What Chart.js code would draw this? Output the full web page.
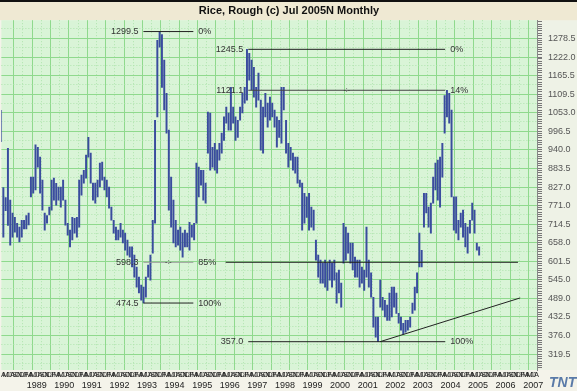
<!DOCTYPE html>
<html>
<head>
<meta charset="utf-8">
<script src="https://cdn.jsdelivr.net/npm/chart.js@4"></script>
<style>
  html, body { margin: 0; padding: 0; background: #f4f2e6; }
  #c { display: block; }
</style>
</head>
<body>
<canvas id="c" width="577" height="391"></canvas>
<script>
// Rice, Rough monthly high/low bars, Mar 1988 .. Jul 2005
const startYear = 1988, startMonth = 2;

const highs = [
  1060, 825, 795, 945, 787, 748, 735, 717, 705, 726,
  726, 740, 748, 857, 857, 955, 948, 918, 848, 748,
  740, 766, 848, 854, 838, 827, 827, 848, 787, 717,
  696, 735, 732, 735, 848, 863, 878, 924, 978, 930,
  839, 839, 848, 900, 903, 857, 848, 827, 766, 726,
  705, 696, 717, 696, 687, 666, 645, 645, 620, 584,
  553, 529, 523, 553, 590, 620, 726, 1030, 1273, 1299.5,
  1290, 1213, 1112, 1000, 857, 787, 726, 696, 705, 687,
  696, 687, 720, 711, 717, 900, 888, 878, 878, 839,
  1055, 1052, 948, 960, 939, 960, 991, 1040, 1070, 1052,
  1130, 1070, 1040, 1030, 1070, 1112, 1130, 1245.5, 1233, 1213,
  1191, 1130, 1173, 1091, 1070, 1112, 1082, 1100, 1082, 1061,
  1040, 1030, 1130, 1130, 1030, 960, 948, 930, 918, 918,
  848, 839, 808, 797, 808, 766, 757, 666, 620, 605,
  596, 605, 596, 605, 596, 605, 566, 575, 535, 717,
  705, 687, 657, 657, 614, 605, 605, 584, 575, 705,
  605, 566, 492, 432, 432, 544, 492, 483, 468, 505,
  523, 523, 505, 443, 432, 413, 422, 422, 432, 474,
  523, 566, 687, 635, 808, 808, 766, 778, 857, 900,
  909, 918, 960, 1105, 1121.1, 1112, 1061, 797, 797, 726,
  748, 757, 717, 705, 726, 778, 757, 657, 645
];
const lows = [
  965, 675, 755, 710, 650, 675, 690, 675, 660, 675,
  700, 700, 712, 797, 808, 818, 887, 808, 757, 696,
  717, 742, 757, 787, 772, 787, 766, 787, 711, 681,
  645, 666, 687, 675, 705, 802, 839, 854, 918, 839,
  787, 778, 797, 827, 848, 818, 797, 763, 726, 687,
  666, 666, 675, 657, 635, 620, 614, 584, 553, 523,
  505, 483, 474.5, 492, 553, 544, 626, 717, 1040, 1252,
  1130, 1061, 991, 757, 705, 657, 645, 650, 635, 614,
  645, 645, 635, 675, 666, 717, 797, 833, 787, 778,
  930, 878, 887, 878, 869, 909, 930, 969, 1021, 1000,
  1000, 1021, 969, 978, 1030, 1052, 1082, 1091, 1152, 1122,
  1100, 1070, 1091, 939, 930, 1040, 1009, 1030, 1040, 1009,
  948, 978, 960, 1061, 930, 887, 909, 878, 869, 839,
  827, 696, 717, 735, 696, 705, 696, 605, 553, 535,
  535, 523, 513, 544, 523, 544, 474, 505, 462, 596,
  605, 626, 596, 575, 553, 553, 523, 535, 513, 553,
  523, 492, 401, 371, 357, 462, 453, 432, 422, 422,
  432, 462, 443, 413, 392, 380, 386, 392, 401, 443,
  453, 505, 584, 584, 705, 748, 705, 687, 778, 818,
  787, 766, 857, 991, 1040, 1021, 797, 696, 687, 666,
  705, 675, 645, 626, 687, 726, 687, 635, 620
];

const yTickLabels = ['319.5','376.0','432.5','489.0','545.0','601.5','658.0','714.5','771.0',
  '827.0','883.5','940.0','996.5','1053.0','1109.5','1165.5','1222.0','1278.5'];
const years = [1989,1990,1991,1992,1993,1994,1995,1996,1997,1998,1999,2000,2001,2002,2003,2004,2005,2006,2007];
const monthLetters = ['J','F','M','A','M','J','J','A','S','O','N','D'];

// retracement sets: start/end (decimal year), level, percent text
const fibFrom   = [1993.37, 1993.37, 1993.37, 1997.17, 1997.17, 1997.17];
const fibTo     = [1995.18, 1995.18, 1995.18, 2004.31, 2004.31, 2004.31];
const fibLevels = [1299.5, 598.3, 474.5, 1245.5, 1121.1, 357.0];
const fibPct    = ['0%', '85%', '100%', '0%', '14%', '100%'];
const fibColor  = ['#222', '#999', '#222', '#222', '#444', '#222'];

const supportX = [1996.35, 2006.95];
const supportY = [598.3, 598.3];
const trendX   = [2001.95, 2007.03];
const trendY   = [357.0, 490.0];

const xMin = 1988.22, xMax = 2007.64;
const yMin = 271, yMax = 1334;
const FONT = '"Liberation Sans", Arial, sans-serif';

const barData = highs.map((h, i) => ({ x: startYear + (startMonth + i + 0.5) / 12, y: [lows[i], h] }));

const datasets = [{
  type: 'bar', data: barData, backgroundColor: '#3a4c9e', barThickness: 1.3,
  borderWidth: 0, xAxisID: 'x', yAxisID: 'y', order: 2
}];
fibLevels.forEach((lv, i) => datasets.push({
  type: 'line', data: [{ x: fibFrom[i], y: lv }, { x: fibTo[i], y: lv }],
  borderColor: fibColor[i], borderWidth: 1, pointRadius: 0, xAxisID: 'x', yAxisID: 'y', order: 1
}));
datasets.push({
  type: 'line', data: supportX.map((x, i) => ({ x, y: supportY[i] })),
  borderColor: '#222', borderWidth: 1, pointRadius: 0, xAxisID: 'x', yAxisID: 'y', order: 1
});
datasets.push({
  type: 'line', data: trendX.map((x, i) => ({ x, y: trendY[i] })),
  borderColor: '#222', borderWidth: 1, pointRadius: 0, xAxisID: 'x', yAxisID: 'y', order: 1
});

const backdrop = {
  id: 'backdrop',
  beforeDraw(chart) {
    const { ctx, chartArea: a, width, height } = chart;
    ctx.save();
    ctx.fillStyle = '#f4f3ea';
    ctx.fillRect(0, 0, width, height);
    ctx.fillStyle = '#eef2e6';
    ctx.fillRect(a.right, a.top, width - a.right, a.bottom - a.top);
    ctx.fillStyle = '#efe9d3';
    ctx.fillRect(0, 0, width, a.top);
    ctx.fillStyle = '#111';
    ctx.fillRect(0, 0, width, 2);
    ctx.fillStyle = '#d9f4d7';
    ctx.fillRect(a.left, a.top, a.right - a.left, a.bottom - a.top);
    ctx.restore();
  }
};

const fibText = {
  id: 'fibText',
  afterDatasetsDraw(chart) {
    const { ctx, scales: { x, y }, chartArea: a, height } = chart;
    ctx.save();
    ctx.font = '9px ' + FONT;
    ctx.fillStyle = '#333';
    ctx.textBaseline = 'middle';
    fibLevels.forEach((lv, i) => {
      const py = y.getPixelForValue(lv);
      const x0 = x.getPixelForValue(fibFrom[i]);
      const x1 = x.getPixelForValue(fibTo[i]);
      ctx.textAlign = 'right';
      ctx.fillText(lv.toFixed(1), x0 - 5, py);
      ctx.textAlign = 'left';
      ctx.fillText(fibPct[i], x1 + 5, py);
      if (fibPct[i] !== '0%' && fibPct[i] !== '100%') {
        ctx.textAlign = 'center';
        ctx.font = '7px ' + FONT;
        ctx.fillText('-:-', (x0 + x1) / 2, py);
        ctx.font = '9px ' + FONT;
      }
    });
    // logo
    ctx.font = 'italic bold 14px ' + FONT;
    ctx.textAlign = 'left';
    ctx.textBaseline = 'alphabetic';
    ctx.fillStyle = '#5a7aa8';
    ctx.fillText('TNT', a.right + 12, height - 4);
    ctx.restore();
  }
};

function yTicksBuild(scale) {
  const step = 56.5 / 8;
  const out = [];
  for (let j = -6; ; j++) {
    const v = 319.5 + j * step;
    if (v > scale.max) break;
    if (v < scale.min) continue;
    let kind = 'minor', label = '';
    if (j % 8 === 0 && j >= 0 && j / 8 < yTickLabels.length) { kind = 'major'; label = yTickLabels[j / 8]; }
    else if (((j % 8) + 8) % 8 === 4) kind = 'mid';
    out.push({ value: kind === 'major' ? Number(label) : v, kind, label });
  }
  scale.ticks = out;
}

function xGridBuild(scale) {
  const out = [];
  const step = 8 / 12;
  for (let k = 0; ; k++) {
    const v = 1988 + 8 / 12 + k * step / 2;
    if (v > scale.max) break;
    out.push({ value: v, kind: k % 2 === 0 ? 'major' : 'mid' });
  }
  scale.ticks = out;
}

function xMonthBuild(scale) {
  const out = [];
  for (let y = 1988; y <= 2007; y++) {
    monthLetters.forEach((m, i) => {
      const v = y + (i + 0.5) / 12;
      if (v >= scale.min && v <= scale.max) out.push({ value: v, letter: m });
    });
  }
  scale.ticks = out;
}

function xYearBuild(scale) {
  scale.ticks = years.map(y => ({ value: y + 0.5, year: String(y) }));
}

const gridColor = c => !c.tick ? 'transparent' : c.tick.kind === 'major' ? '#8fd98d' : c.tick.kind === 'mid' ? '#afe4ad' : 'transparent';
const gridDash = c => (c.tick && c.tick.kind === 'mid') ? [1, 2] : [];

new Chart(document.getElementById('c'), {
  type: 'bar',
  data: { datasets },
  options: {
    responsive: false,
    devicePixelRatio: 1,
    animation: false,
    layout: { padding: { left: 1, right: 0, top: 0, bottom: 0 } },
    plugins: {
      legend: { display: false },
      tooltip: { enabled: false },
      title: {
        display: true, text: 'Rice, Rough (c) Jul 2005N Monthly', color: '#111',
        font: { family: FONT, size: 11, weight: 'bold' }, padding: { top: 4, bottom: 3 }
      }
    },
    scales: {
      x: {
        type: 'linear', position: 'bottom', min: xMin, max: xMax, offset: false, weight: 0,
        afterBuildTicks: xGridBuild,
        afterFit: s => { s.height = 0; },
        ticks: { display: false },
        grid: { offset: false, drawTicks: false, color: gridColor, lineWidth: 1 },
        border: { display: false, dash: gridDash }
      },
      xm: {
        type: 'linear', position: 'bottom', min: xMin, max: xMax, offset: false, weight: 1,
        afterBuildTicks: xMonthBuild,
        afterFit: s => { s.height = 9; },
        grid: { display: false, drawTicks: false, offset: false },
        border: { display: false },
        ticks: {
          autoSkip: false, maxRotation: 0, minRotation: 0, padding: 1, color: '#222',
          font: { family: FONT, size: 7 },
          callback: (v, i, t) => t[i].letter
        }
      },
      xy: {
        type: 'linear', position: 'bottom', min: xMin, max: xMax, offset: false, weight: 2,
        afterBuildTicks: xYearBuild,
        afterFit: s => { s.height = 12; },
        grid: { display: false, drawTicks: false, offset: false },
        border: { display: false },
        ticks: {
          autoSkip: false, maxRotation: 0, minRotation: 0, padding: 1, color: '#222',
          font: { family: FONT, size: 9 },
          callback: (v, i, t) => t[i].year
        }
      },
      y: {
        type: 'linear', position: 'right', min: yMin, max: yMax,
        afterBuildTicks: yTicksBuild,
        afterFit: s => { s.width = 40; },
        grid: { color: gridColor, tickColor: '#777', tickLength: 5, lineWidth: 1 },
        border: { display: true, color: '#888', dash: gridDash },
        ticks: {
          autoSkip: false, padding: 6, color: '#555',
          font: { family: FONT, size: 9 },
          callback: (v, i, t) => t[i].label
        }
      }
    }
  },
  plugins: [backdrop, fibText]
});
</script>
</body>
</html>
